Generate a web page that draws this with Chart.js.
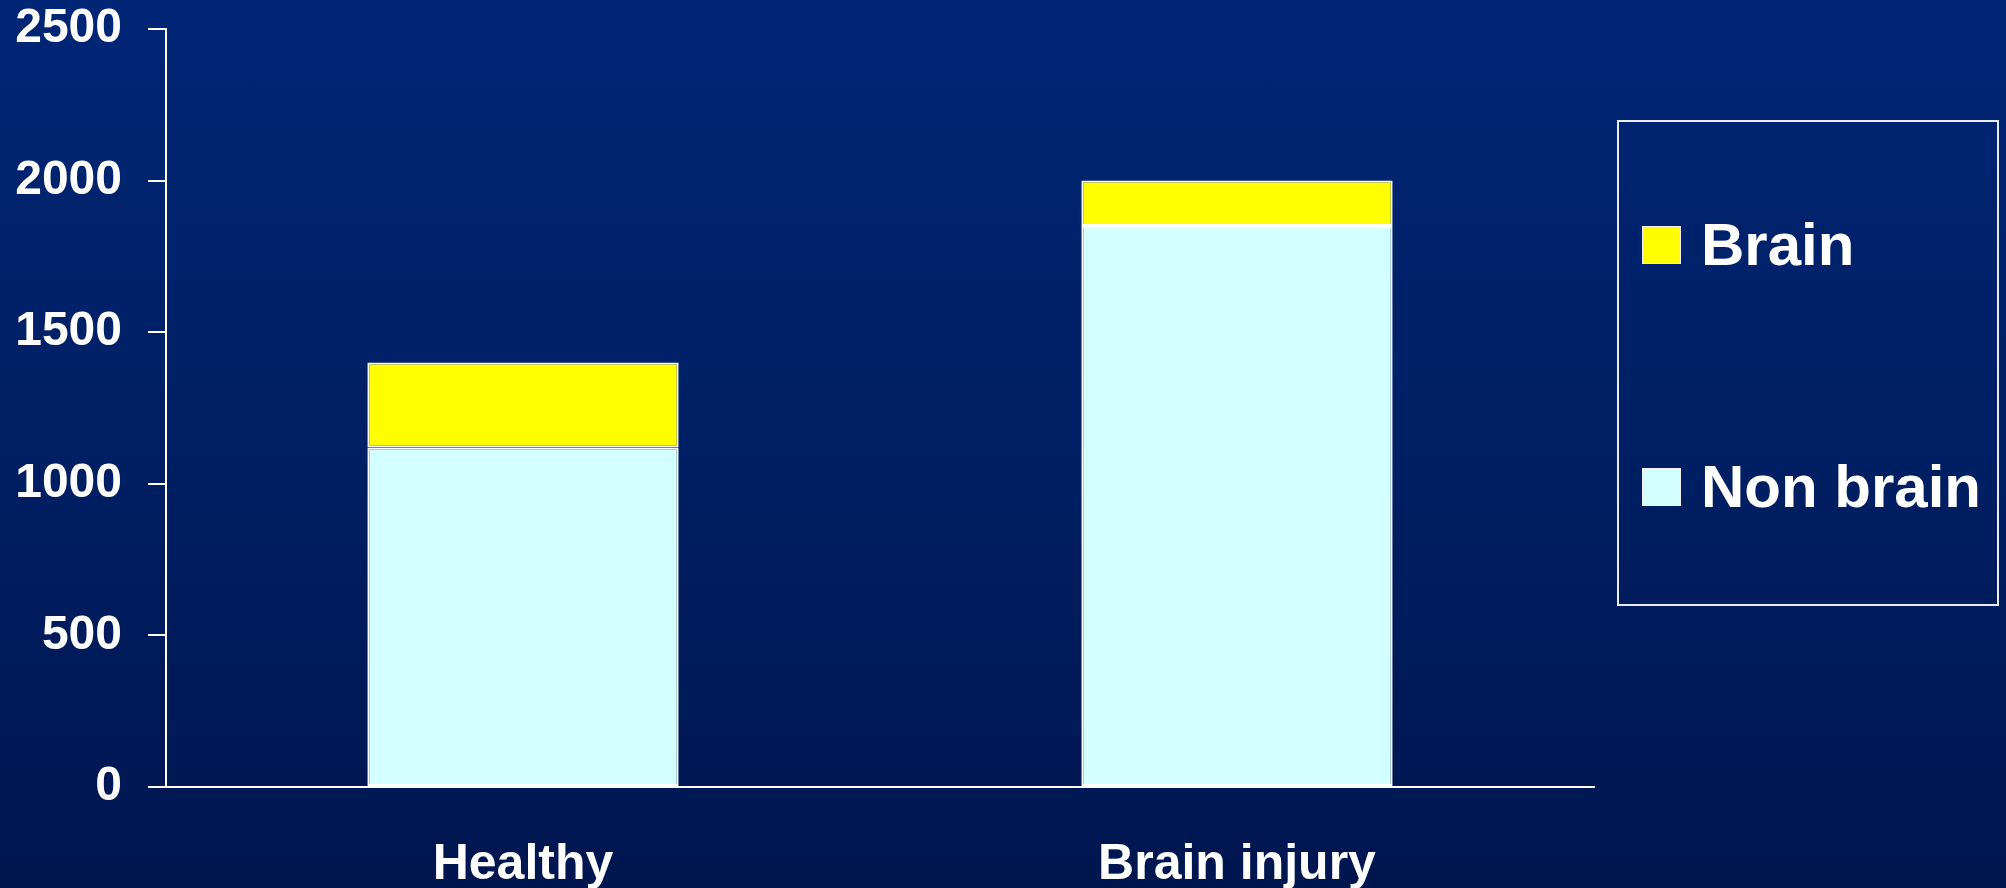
<!DOCTYPE html>
<html lang="en">
<head>
    <meta charset="UTF-8">
    <title>Brain vs Non brain</title>
    <style>
        html, body {
            margin: 0;
            padding: 0;
            width: 2006px;
            height: 888px;
            overflow: hidden;
        }
        body {
            background: linear-gradient(to bottom, #002676 0%, #001f64 50%, #00164f 100%);
            font-family: "Liberation Sans", Arial, sans-serif;
            position: relative;
        }
        #chart {
            position: absolute;
            left: 0;
            top: 0;
        }
        #legend {
            position: absolute;
            left: 1617px;
            top: 120px;
            width: 378px;
            height: 482px;
            border: 2px solid #e8ecf4;
        }
        .item {
            position: absolute;
            left: 23px;
            display: flex;
            align-items: center;
            color: white;
            font-weight: bold;
            font-size: 60px;
        }
        .swatch {
            width: 37px;
            height: 36px;
            border: 1px solid #f0f0f0;
            margin-right: 20px;
        }
    </style>
</head>
<body>
    <canvas id="chart" width="2006" height="888"></canvas>
    <div id="legend"></div>

    <script src="https://cdn.jsdelivr.net/npm/chart.js"></script>
    <script>
        // values
        const categories = ['Healthy', 'Brain injury'];
        const nonBrain = [1120, 1850];
        const brain = [280, 150];
        const yTicks = [0, 500, 1000, 1500, 2000, 2500];

        const seriesNames = ['Brain', 'Non brain'];
        const seriesColors = ['#ffff00', '#d4ffff'];

        // legend box, Brain on top
        const legend = document.getElementById('legend');
        const legendTops = [88, 330];
        seriesNames.forEach((name, i) => {
            const el = document.createElement('div');
            el.className = 'item';
            el.style.top = legendTops[i] + 'px';
            el.innerHTML = `<div class="swatch" style="background:${seriesColors[i]}"></div><span>${name}</span>`;
            legend.appendChild(el);
        });

        const tickFont = { family: '"Liberation Sans", Arial, sans-serif', size: 48, weight: 'bold' };

        new Chart(document.getElementById('chart'), {
            type: 'bar',
            data: {
                labels: categories,
                datasets: [
                    {
                        label: seriesNames[1],
                        data: nonBrain,
                        backgroundColor: seriesColors[1],
                        borderColor: '#ffffff',
                        borderWidth: 2,
                        borderSkipped: false
                    },
                    {
                        label: seriesNames[0],
                        data: brain,
                        backgroundColor: seriesColors[0],
                        borderColor: '#ffffff',
                        borderWidth: 2,
                        borderSkipped: false
                    }
                ]
            },
            options: {
                responsive: false,
                animation: false,
                layout: { padding: { top: 29, right: 412, left: 0, bottom: 0 } },
                plugins: {
                    legend: { display: false },
                    tooltip: { enabled: false }
                },
                datasets: {
                    bar: { categoryPercentage: 1, barPercentage: 0.436 }
                },
                scales: {
                    x: {
                        stacked: true,
                        grid: { display: false, drawTicks: false },
                        border: { color: '#ffffff', width: 2 },
                        ticks: {
                            color: '#ffffff',
                            font: { ...tickFont, size: 50 },
                            padding: 48
                        },
                        afterFit: s => { s.height = 101; }
                    },
                    y: {
                        stacked: true,
                        min: 0,
                        max: 2500,
                        afterBuildTicks: s => { s.ticks = yTicks.map(v => ({ value: v })); },
                        grid: {
                            drawOnChartArea: false,
                            drawTicks: true,
                            tickLength: 18,
                            color: '#ffffff',
                            lineWidth: 2
                        },
                        border: { color: '#ffffff', width: 2 },
                        ticks: {
                            color: '#ffffff',
                            font: tickFont,
                            padding: 26,
                            callback: v => String(v)
                        },
                        afterFit: s => {
                            s.width = 166;
                            // top label may hang over the edge; layout padding covers it
                            s.paddingTop = 0;
                            s.paddingBottom = 0;
                        }
                    }
                }
            }
        });
    </script>
</body>
</html>
